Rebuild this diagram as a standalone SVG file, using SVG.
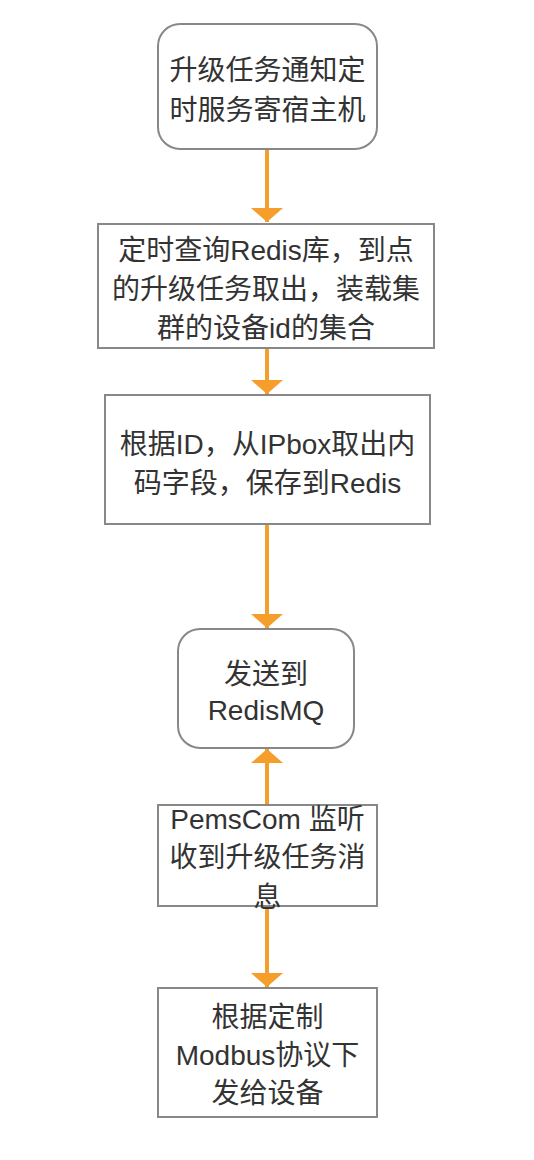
<svg xmlns="http://www.w3.org/2000/svg" width="534" height="1160" viewBox="0 0 534 1160">
<style>
.box{fill:#fff;stroke:#888;stroke-width:2}
.t{font-family:"Liberation Sans","Noto Sans CJK SC",sans-serif;font-size:28px;fill:#333;text-anchor:middle}
.c{stroke:#F59E2B;stroke-width:4;fill:none}
</style>
<defs>
<marker id="ah" markerUnits="userSpaceOnUse" markerWidth="14" markerHeight="32" refX="14" refY="16" viewBox="0 0 14 32" orient="auto">
<path d="M0,0 L14,16 L0,32 Z" fill="#F59E2B"/>
</marker>
</defs>
<rect width="534" height="1160" fill="#fff"/>
<g id="connectors">
<line class="c" x1="267" y1="150" x2="267" y2="222" marker-end="url(#ah)"/>
<line class="c" x1="267" y1="348" x2="267" y2="394" marker-end="url(#ah)"/>
<line class="c" x1="267" y1="524" x2="267" y2="628" marker-end="url(#ah)"/>
<line class="c" x1="267" y1="805" x2="267" y2="749" marker-end="url(#ah)"/>
<line class="c" x1="267" y1="906" x2="267" y2="987" marker-end="url(#ah)"/>
</g>
<g id="n1">
<rect class="box" x="158" y="24" width="219" height="125" rx="22"/>
<text class="t" x="267.5" y="80">升级任务通知定</text>
<text class="t" x="267.5" y="120">时服务寄宿主机</text>
</g>
<g id="n2">
<rect class="box" x="98" y="224" width="336" height="124"/>
<text class="t" x="266" y="259.5">定时查询Redis库，到点</text>
<text class="t" x="266" y="299">的升级任务取出，装载集</text>
<text class="t" x="266" y="338">群的设备id的集合</text>
</g>
<g id="n3">
<rect class="box" x="105" y="395" width="325" height="129"/>
<text class="t" x="267.5" y="454">根据ID，从IPbox取出内</text>
<text class="t" x="267.5" y="493">码字段，保存到Redis</text>
</g>
<g id="n4">
<rect class="box" x="178" y="629" width="176" height="119" rx="22"/>
<text class="t" x="266" y="684">发送到</text>
<text class="t" x="266" y="720">RedisMQ</text>
</g>
<g id="n5">
<rect class="box" x="158" y="805" width="219" height="101"/>
<text class="t" x="267.5" y="829">PemsCom 监听</text>
<text class="t" x="267.5" y="867">收到升级任务消</text>
<text class="t" x="267.5" y="907">息</text>
</g>
<g id="n6">
<rect class="box" x="158" y="988" width="219" height="129"/>
<text class="t" x="267.5" y="1027">根据定制</text>
<text class="t" x="267.5" y="1065">Modbus协议下</text>
<text class="t" x="267.5" y="1103">发给设备</text>
</g>
</svg>
